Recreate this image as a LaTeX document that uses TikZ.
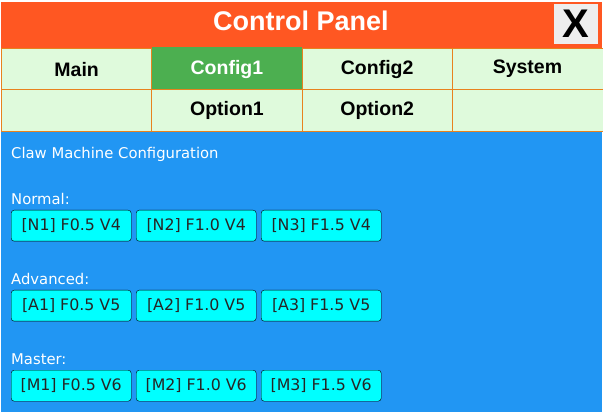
\documentclass[tikz,border=0pt]{standalone}
\usepackage{fontspec}
\setmainfont{DejaVu Sans}
\newfontfamily\headfont{Liberation Sans}
\definecolor{titlebar}{HTML}{FF5722}
\definecolor{tabbg}{HTML}{DFFADC}
\definecolor{tabon}{HTML}{4CAF50}
\definecolor{tabline}{HTML}{E8821E}
\definecolor{panelbg}{HTML}{2196F3}
\definecolor{closebg}{HTML}{EEEEEE}
\definecolor{btncyan}{HTML}{00FFFF}
\tikzset{
  tabcell/.style={draw=tabline, fill=tabbg, minimum width=151pt, minimum height=42pt, inner sep=0pt, font=\headfont\bfseries\fontsize{19.5}{21}\selectfont, anchor=north west},
  grouplabel/.style={anchor=west, text=white, font=\fontsize{14.8}{17}\selectfont, inner sep=0pt},
  clawbtn/.style={draw=black, fill=btncyan, rounded corners=3pt, minimum width=120pt, minimum height=31pt, inner sep=0pt, anchor=north west, font=\fontsize{15.8}{17}\selectfont, text=black!85}
}
\begin{document}
\begin{tikzpicture}[x=1pt, y=-1pt]
  \useasboundingbox (0,0) rectangle (603,414);
  \fill[white] (0,0) rectangle (603,414);
  % window
  \fill[titlebar] (1,2) rectangle (602,48);
  \fill[panelbg] (1,131) rectangle (602,412);
  \node[text=white, font=\headfont\bfseries\fontsize{27}{29}\selectfont] (title) at (301,21) {Control Panel};
  \node[fill=closebg, minimum width=44pt, minimum height=40pt, inner sep=0pt, font=\headfont\bfseries\fontsize{40}{42}\selectfont] (close) at (576,24) {X};
  % tabs
  \foreach \t [count=\i] in {Main,Config1,Config2,System} {
    \node[tabcell] (tab\i) at ({1+(\i-1)*150.25},48) {\t};
  }
  \fill[tabon] ([shift={(0.5pt,0.5pt)}]tab2.north west) rectangle ([shift={(-0.5pt,-0.5pt)}]tab2.south east);
  \node[text=white, font=\headfont\bfseries\fontsize{19.5}{21}\selectfont] at (tab2) {Config1};
  \foreach \t [count=\i] in {{},Option1,Option2,{}} {
    \node[tabcell] (opt\i) at ({1+(\i-1)*150.25},89) {\t};
  }
  % configuration buttons
  \node[grouplabel] (heading) at (11,154) {Claw Machine Configuration};
  \foreach \g/\k/\v [count=\r] in {Normal/N/4,Advanced/A/5,Master/M/6} {
    \node[grouplabel] (group\k) at (11,{199+(\r-1)*80}) {\g:};
    \foreach \f [count=\c] in {0.5,1.0,1.5} {
      \node[clawbtn] (btn\k\c) at ({11+(\c-1)*125},{210+(\r-1)*80}) {[\k\c] F\f{} V\v};
    }
  }
\end{tikzpicture}
\end{document}
